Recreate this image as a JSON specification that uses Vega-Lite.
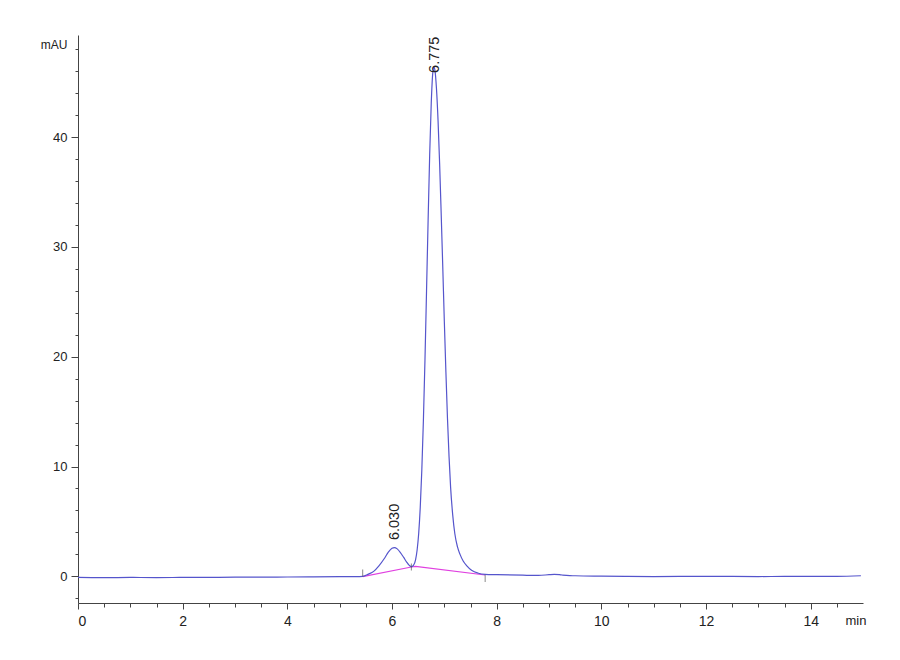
{
  "$schema": "https://vega.github.io/schema/vega-lite/v6.json",
  "width": 785,
  "height": 568,
  "autosize": {"type": "none"},
  "padding": {"left": 78, "top": 35, "right": 37, "bottom": 57},
  "background": "white",
  "config": {"view": {"stroke": null}, "axis": {"grid": false}},
  "datasets": {
    "trace": [
      {"t": 0, "v": -0.1}, {"t": 0.5, "v": -0.12}, {"t": 1, "v": -0.1}, {"t": 1.5, "v": -0.12},
      {"t": 2, "v": -0.1}, {"t": 2.5, "v": -0.1}, {"t": 3, "v": -0.08}, {"t": 3.5, "v": -0.08},
      {"t": 4, "v": -0.06}, {"t": 4.5, "v": -0.05}, {"t": 5, "v": -0.03}, {"t": 5.3, "v": -0.02},
      {"t": 5.44, "v": 0.0}, {"t": 5.55, "v": 0.2}, {"t": 5.65, "v": 0.45}, {"t": 5.75, "v": 0.95},
      {"t": 5.85, "v": 1.6}, {"t": 5.93, "v": 2.2}, {"t": 6.0, "v": 2.55}, {"t": 6.045, "v": 2.62},
      {"t": 6.1, "v": 2.5}, {"t": 6.17, "v": 2.1}, {"t": 6.22, "v": 1.75}, {"t": 6.28, "v": 1.3},
      {"t": 6.33, "v": 1.0}, {"t": 6.37, "v": 0.88}, {"t": 6.41, "v": 1.0}, {"t": 6.45, "v": 1.5},
      {"t": 6.48, "v": 2.4}, {"t": 6.51, "v": 3.9}, {"t": 6.54, "v": 6.3}, {"t": 6.57, "v": 9.7},
      {"t": 6.6, "v": 14.2}, {"t": 6.63, "v": 19.7}, {"t": 6.66, "v": 26.0}, {"t": 6.69, "v": 32.4},
      {"t": 6.72, "v": 38.4}, {"t": 6.75, "v": 43.1}, {"t": 6.78, "v": 45.9}, {"t": 6.8, "v": 46.4},
      {"t": 6.82, "v": 46.1}, {"t": 6.85, "v": 44.4}, {"t": 6.88, "v": 41.5}, {"t": 6.91, "v": 37.6},
      {"t": 6.94, "v": 33.0}, {"t": 6.97, "v": 28.2}, {"t": 7.0, "v": 23.2}, {"t": 7.03, "v": 18.6},
      {"t": 7.06, "v": 14.4}, {"t": 7.09, "v": 10.9}, {"t": 7.12, "v": 8.1}, {"t": 7.16, "v": 5.6},
      {"t": 7.2, "v": 3.9}, {"t": 7.25, "v": 2.7}, {"t": 7.3, "v": 2.0}, {"t": 7.36, "v": 1.4},
      {"t": 7.43, "v": 0.95}, {"t": 7.52, "v": 0.55}, {"t": 7.65, "v": 0.28}, {"t": 7.78, "v": 0.18},
      {"t": 8.0, "v": 0.15}, {"t": 8.5, "v": 0.1}, {"t": 8.8, "v": 0.08}, {"t": 9.0, "v": 0.15},
      {"t": 9.1, "v": 0.18}, {"t": 9.25, "v": 0.12}, {"t": 9.5, "v": 0.05}, {"t": 10, "v": 0.02},
      {"t": 10.5, "v": 0.0}, {"t": 11, "v": -0.02}, {"t": 12, "v": 0.0}, {"t": 13, "v": -0.02},
      {"t": 14, "v": 0.0}, {"t": 14.5, "v": 0.0}, {"t": 14.96, "v": 0.05}
    ],
    "baseline": [
      {"t": 5.44, "v": -0.02}, {"t": 6.37, "v": 0.85}, {"t": 6.45, "v": 0.9}, {"t": 7.78, "v": 0.12}
    ],
    "events": [
      {"t": 5.44, "v": 0.3}, {"t": 6.37, "v": 0.85}, {"t": 7.78, "v": -0.2}
    ],
    "labels": [
      {"t": 6.06, "v": 3.3, "label": "6.030"},
      {"t": 6.83, "v": 45.85, "label": "6.775"}
    ]
  },
  "encoding": {
    "x": {
      "field": "t", "type": "quantitative",
      "scale": {"domain": [0, 15], "nice": false, "zero": false},
      "axis": {
        "values": [0,0.5,1,1.5,2,2.5,3,3.5,4,4.5,5,5.5,6,6.5,7,7.5,8,8.5,9,9.5,10,10.5,11,11.5,12,12.5,13,13.5,14,14.5],
        "format": "~g",
        "labelExpr": "datum.value % 2 === 0 ? datum.label : ''",
        "tickSize": {"condition": {"test": "datum.value % 2 === 0", "value": 6}, "value": 4},
        "domainColor": "#444", "tickColor": "#444",
        "labelFont": "Liberation Sans", "labelFontSize": 14, "labelColor": "#222",
        "labelPadding": 5,
        "title": "min", "titleFont": "Liberation Sans", "titleFontSize": 13, "titleFontWeight": "normal",
        "titleColor": "#222", "titleAlign": "left", "titleAnchor": null, "titleX": 767, "titleY": 17,
        "titleBaseline": "middle"
      }
    },
    "y": {
      "field": "v", "type": "quantitative",
      "scale": {"domain": [-2.43, 49.3], "nice": false, "zero": false},
      "axis": {
        "values": [-2,0,2,4,6,8,10,12,14,16,18,20,22,24,26,28,30,32,34,36,38,40,42,44,46,48],
        "labelExpr": "datum.value % 10 === 0 ? datum.label : ''",
        "tickSize": {"condition": {"test": "datum.value % 10 === 0", "value": 7}, "value": 3},
        "domainColor": "#444", "tickColor": "#444",
        "labelFont": "Liberation Sans", "labelFontSize": 13, "labelColor": "#222",
        "labelPadding": 4,
        "title": "mAU", "titleFont": "Liberation Sans", "titleFontSize": 12, "titleFontWeight": "normal",
        "titleColor": "#222", "titleAngle": 0, "titleAlign": "right", "titleAnchor": null,
        "titleX": -11, "titleY": 9, "titleBaseline": "middle"
      }
    }
  },
  "layer": [
    {
      "data": {"name": "baseline"},
      "mark": {"type": "line", "color": "#e040e0", "strokeWidth": 1.2},
      "encoding": {}
    },
    {
      "data": {"name": "trace"},
      "mark": {"type": "line", "color": "#5555cc", "strokeWidth": 1.2, "interpolate": "monotone"},
      "encoding": {}
    },
    {
      "data": {"name": "events"},
      "mark": {"type": "tick", "orient": "vertical", "color": "#555", "size": 7, "thickness": 1}
    },
    {
      "data": {"name": "labels"},
      "mark": {"type": "text", "angle": 270, "align": "left", "baseline": "middle", "font": "Liberation Sans", "fontSize": 14.5, "color": "#222"},
      "encoding": {"text": {"field": "label"}}
    }
  ]
}
